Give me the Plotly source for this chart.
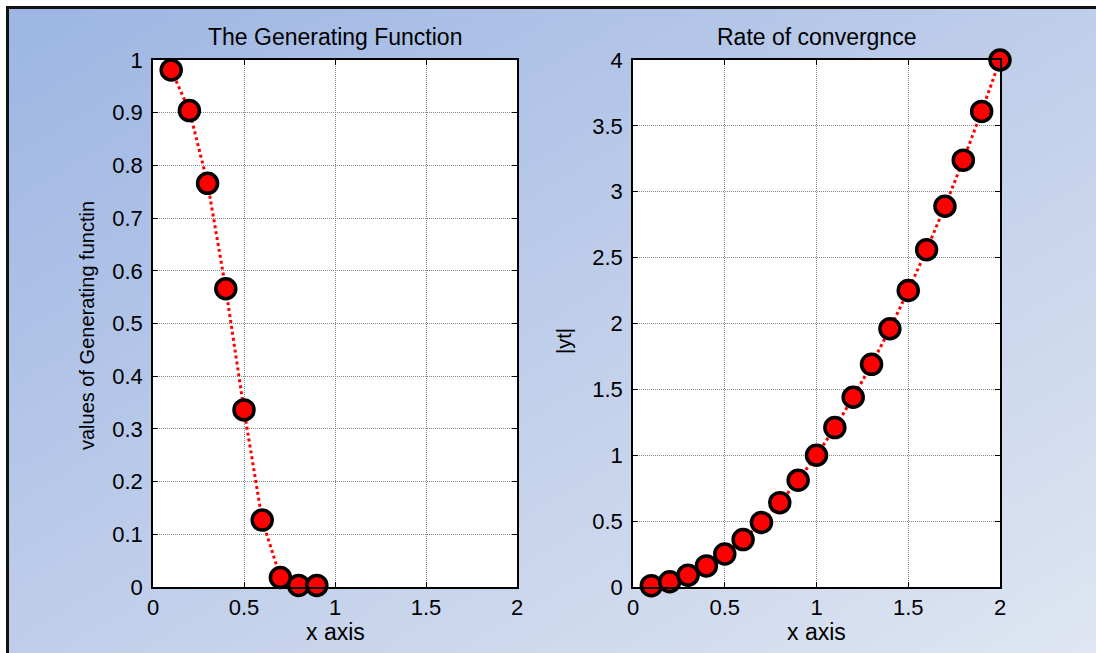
import base64
import plotly.graph_objects as go

# ---------------- data ----------------
x_gen = [0.1, 0.2, 0.3, 0.4, 0.5, 0.6, 0.7, 0.8, 0.9]
y_gen = [0.981, 0.904, 0.766, 0.566, 0.336, 0.127, 0.018, 0.003, 0.003]

x_rate = [0.1, 0.2, 0.3, 0.4, 0.5, 0.6, 0.7, 0.8, 0.9, 1.0,
          1.1, 1.2, 1.3, 1.4, 1.5, 1.6, 1.7, 1.8, 1.9, 2.0]
y_rate = [0.01, 0.04, 0.09, 0.16, 0.25, 0.36, 0.49, 0.64, 0.81, 1.00,
          1.21, 1.44, 1.69, 1.96, 2.25, 2.56, 2.89, 3.24, 3.61, 4.00]

x_ticks = [0, 0.5, 1, 1.5, 2]
y_ticks_gen = [0, 0.1, 0.2, 0.3, 0.4, 0.5, 0.6, 0.7, 0.8, 0.9, 1]
y_ticks_rate = [0, 0.5, 1, 1.5, 2, 2.5, 3, 3.5, 4]

titles = ["The Generating Function", "Rate of convergnce"]
x_label = "x axis"
y_labels = ["values of Generating functin", "|yt|"]

# ---------------- layout constants ----------------
W, H = 1096, 653
FONT = "Liberation Sans, Arial, sans-serif"
px = lambda v: v / W
py = lambda v: 1 - v / H

dom_x1 = [px(153), px(517)]
dom_x2 = [px(633), px(1000)]
dom_y = [py(587), py(60)]

# background: white margin, diagonal gradient, black frame lines at top/left
svg = f'''<svg xmlns="http://www.w3.org/2000/svg" width="{W}" height="{H}" viewBox="0 0 {W} {H}" preserveAspectRatio="none">
<defs><linearGradient id="g" x1="0" y1="0" x2="1" y2="1">
<stop offset="0" stop-color="#9CB5E3"/>
<stop offset="0.5" stop-color="#BFCEEA"/>
<stop offset="1" stop-color="#E0E6F2"/>
</linearGradient></defs>
<rect x="0" y="0" width="{W}" height="{H}" fill="#ffffff"/>
<rect x="8" y="8" width="{W}" height="{H}" fill="url(#g)"/>
<rect x="6" y="6" width="{W}" height="3" fill="#111111"/>
<rect x="6" y="6" width="3" height="{H}" fill="#111111"/>
</svg>'''
bg_src = "data:image/svg+xml;base64," + base64.b64encode(svg.encode()).decode()

fig = go.Figure()

marker = dict(size=20, color="#FF0000", line=dict(color="#000000", width=3.5))
line = dict(color="#FF0000", width=3, dash="dot")

fig.add_trace(go.Scatter(x=x_gen, y=y_gen, mode="lines+markers", marker=marker,
                         line=line, cliponaxis=False, xaxis="x", yaxis="y",
                         showlegend=False))
fig.add_trace(go.Scatter(x=x_rate, y=y_rate, mode="lines+markers", marker=marker,
                         line=line, cliponaxis=False, xaxis="x2", yaxis="y2",
                         showlegend=False))

axis_common = dict(
    showline=True, linecolor="#000000", linewidth=1.5, mirror="ticks",
    ticks="inside", ticklen=5, tickcolor="#000000", tickwidth=1,
    showgrid=True, gridcolor="#888888", gridwidth=1, griddash="1px,1px",
    zeroline=False, tickfont=dict(family=FONT, size=22, color="#000000"),
    automargin=False,
)

fig.update_layout(
    width=W, height=H,
    margin=dict(l=0, r=0, t=0, b=0, pad=0, autoexpand=False),
    paper_bgcolor="#ffffff",
    plot_bgcolor="rgba(0,0,0,0)",
    xaxis=dict(domain=dom_x1, range=[0, 2], tickvals=x_ticks, anchor="y",
               ticklabelstandoff=0, **axis_common),
    yaxis=dict(domain=dom_y, range=[0, 1], tickvals=y_ticks_gen, anchor="x",
               ticklabelstandoff=4, **axis_common),
    xaxis2=dict(domain=dom_x2, range=[0, 2], tickvals=x_ticks, anchor="y2",
                ticklabelstandoff=0, **axis_common),
    yaxis2=dict(domain=dom_y, range=[0, 4], tickvals=y_ticks_rate, anchor="x2",
                ticklabelstandoff=4, **axis_common),
    images=[dict(source=bg_src, xref="paper", yref="paper", x=0, y=1, sizex=1, sizey=1,
                 sizing="stretch", xanchor="left", yanchor="top", layer="below")],
    shapes=[
        dict(type="rect", xref="x domain", yref="y domain", x0=0, x1=1, y0=0, y1=1,
             fillcolor="#ffffff", line=dict(width=0), layer="below"),
        dict(type="rect", xref="x2 domain", yref="y2 domain", x0=0, x1=1, y0=0, y1=1,
             fillcolor="#ffffff", line=dict(width=0), layer="below"),
    ],
)

tfont = dict(family=FONT, size=23, color="#000000")
ann = []
for dom, t in zip([dom_x1, dom_x2], titles):
    ann.append(dict(text=t, x=(dom[0] + dom[1]) / 2, y=py(37), xref="paper", yref="paper",
                    showarrow=False, xanchor="center", yanchor="middle", font=tfont))
    ann.append(dict(text=x_label, x=(dom[0] + dom[1]) / 2, y=py(632), xref="paper", yref="paper",
                    showarrow=False, xanchor="center", yanchor="middle", font=tfont))
ann.append(dict(text=y_labels[0], x=px(87), y=py(326), xref="paper", yref="paper",
                showarrow=False, textangle=-90, xanchor="center", yanchor="middle",
                font=dict(family=FONT, size=20, color="#000000")))
ann.append(dict(text=y_labels[1], x=px(564), y=py(341), xref="paper", yref="paper",
                showarrow=False, textangle=-90, xanchor="center", yanchor="middle",
                font=dict(family=FONT, size=20, color="#000000")))
fig.update_layout(annotations=ann)

fig.write_html("out.html")
